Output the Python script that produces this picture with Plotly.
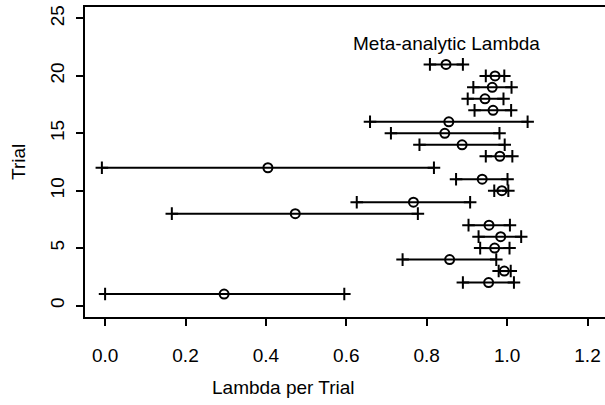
import plotly.graph_objects as go

# Data
trial = list(range(1, 22))
lam = [0.296, 0.954, 0.993, 0.857, 0.969, 0.984, 0.955, 0.473, 0.767, 0.987,
       0.938, 0.405, 0.982, 0.888, 0.845, 0.855, 0.965, 0.945, 0.963, 0.970, 0.848]
lower = [0.000, 0.890, 0.979, 0.740, 0.933, 0.929, 0.904, 0.166, 0.626, 0.968,
         0.873, -0.008, 0.947, 0.782, 0.711, 0.659, 0.919, 0.902, 0.916, 0.947, 0.808]
upper = [0.595, 1.017, 1.009, 0.973, 1.006, 1.035, 1.007, 0.778, 0.908, 1.003,
         1.001, 0.818, 1.013, 0.994, 0.981, 1.051, 1.010, 0.991, 1.011, 0.993, 0.890]
x_ticks = [0.0, 0.2, 0.4, 0.6, 0.8, 1.0, 1.2]
x_ticktext = ["0.0", "0.2", "0.4", "0.6", "0.8", "1.0", "1.2"]
y_ticks = [0, 5, 10, 15, 20, 25]
meta_label = "Meta-analytic Lambda"
meta_x, meta_y = 0.85, 22.85

FONT = "Liberation Sans, Arial, sans-serif"

fig = go.Figure()
fig.add_trace(go.Scatter(
    x=lam, y=trial, mode="markers",
    marker=dict(symbol="circle-open", size=9, color="black", line=dict(width=2, color="black")),
    error_x=dict(type="data", symmetric=False,
                 array=[u - c for u, c in zip(upper, lam)],
                 arrayminus=[c - l for c, l in zip(lam, lower)],
                 thickness=2, width=0, color="black"),
    showlegend=False, hoverinfo="skip"))
fig.add_trace(go.Scatter(
    x=lower + upper, y=trial + trial, mode="markers",
    marker=dict(symbol="cross-thin", size=9, color="black", line=dict(width=2, color="black")),
    showlegend=False, hoverinfo="skip"))

fig.add_annotation(x=meta_x, y=meta_y, xref="x", yref="y", text=meta_label,
                   showarrow=False, font=dict(family=FONT, size=19, color="black"),
                   xanchor="center", yanchor="middle")
fig.add_annotation(x=(283 - 85) / 520, y=(317 - 387) / 310, xref="paper", yref="paper",
                   text="Lambda per Trial", showarrow=False,
                   font=dict(family=FONT, size=19, color="black"),
                   xanchor="center", yanchor="middle")
fig.add_annotation(x=(18 - 85) / 520, y=0.5, xref="paper", yref="paper",
                   text="Trial", textangle=-90, showarrow=False,
                   font=dict(family=FONT, size=19, color="black"),
                   xanchor="center", yanchor="middle")

fig.update_layout(
    width=605, height=405,
    margin=dict(l=85, r=0, t=7, b=88, pad=0),
    paper_bgcolor="white", plot_bgcolor="white",
    font=dict(family=FONT, size=19, color="black"),
    xaxis=dict(range=[-0.05, 1.2435], tickvals=x_ticks, ticktext=x_ticktext,
               showgrid=False, zeroline=False, showline=True, mirror=True,
               linecolor="black", linewidth=2, ticks="outside", ticklen=7,
               tickwidth=2, tickcolor="black", ticklabelstandoff=13),
    yaxis=dict(range=[-1, 26], tickvals=y_ticks, tickangle=-90,
               showgrid=False, zeroline=False, showline=True, mirror=False,
               linecolor="black", linewidth=2, ticks="outside", ticklen=7,
               tickwidth=2, tickcolor="black", ticklabelstandoff=4),
)

fig.write_html("out.html")
